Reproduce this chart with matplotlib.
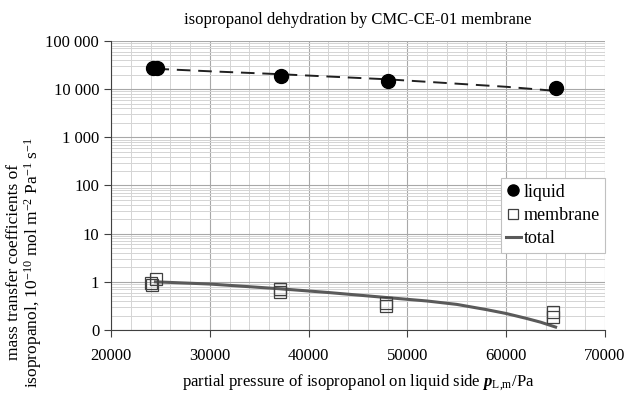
import matplotlib.pyplot as plt
from matplotlib.ticker import FixedLocator, FuncFormatter, LogLocator, MultipleLocator

plt.rcParams['font.family'] = ['Liberation Serif', 'DejaVu Serif']
plt.rcParams['mathtext.fontset'] = 'custom'
plt.rcParams['mathtext.rm'] = 'Liberation Serif'
plt.rcParams['mathtext.it'] = 'Liberation Serif:italic'
plt.rcParams['mathtext.bf'] = 'Liberation Serif:bold'
plt.rcParams['mathtext.bfit'] = 'Liberation Serif:italic:bold'

# measured coefficients
liquid_p = [24300, 24700, 37200, 48000, 65000]
liquid_k = [27000, 27500, 18500, 14500, 10500]
membrane_p = [24000, 24200, 24600, 37100, 37100, 47800, 47800, 64700, 64700]
membrane_k = [0.95, 0.88, 1.12, 0.72, 0.62, 0.37, 0.31, 0.24, 0.19]

# fitted curves
liquid_fit_p = [24500, 30000, 37000, 42000, 48000, 55000, 60000, 65000]
liquid_fit_k = [26500, 23500, 20500, 18300, 16000, 13000, 11200, 9200]
total_p = [24500, 30000, 37000, 42000, 48000, 52000, 55000, 58000, 60000, 62000, 63500, 65000]
total_k = [1.0, 0.9, 0.72, 0.6, 0.47, 0.40, 0.34, 0.265, 0.22, 0.175, 0.145, 0.115]

x_ticks = [20000, 30000, 40000, 50000, 60000, 70000]
y_ticks = [0.1, 1, 10, 100, 1000, 10000, 100000]


def y_fmt(v, pos):
    if v < 1:
        return '0'
    return f'{int(round(v)):,}'.replace(',', ' ')


fig = plt.figure(figsize=(6.27, 3.94), dpi=100)
ax = fig.add_axes([111 / 627, 1 - 330 / 394, (605 - 111) / 627, (330 - 41) / 394])

ax.set_yscale('log')
ax.set_xlim(20000, 70000)
ax.set_ylim(0.1, 100000)

ax.xaxis.set_major_locator(FixedLocator(x_ticks))
ax.xaxis.set_minor_locator(MultipleLocator(2000))
ax.yaxis.set_major_locator(FixedLocator(y_ticks))
ax.yaxis.set_minor_locator(LogLocator(base=10, subs=range(2, 10)))
ax.yaxis.set_major_formatter(FuncFormatter(y_fmt))
ax.yaxis.set_minor_formatter(FuncFormatter(lambda v, p: ''))

ax.grid(True, which='major', color='#a8a8a8', lw=0.8)
ax.grid(True, which='minor', color='#d4d4d4', lw=0.7)
ax.set_axisbelow(True)

for s in ['top', 'right']:
    ax.spines[s].set_visible(False)
for s in ['left', 'bottom']:
    ax.spines[s].set_color('#404040')
    ax.spines[s].set_linewidth(0.8)
ax.tick_params(which='major', direction='out', length=5, color='#404040', labelsize=12, width=0.8)
ax.tick_params(which='minor', length=0)
ax.tick_params(axis='x', pad=8)

ax.plot(liquid_fit_p, liquid_fit_k, color='#202020', lw=1.4, ls=(0, (7, 4)), zorder=3)
ax.plot(total_p, total_k, color='#5a5a5a', lw=2.2, zorder=3, label='total')
ax.plot(liquid_p, liquid_k, 'o', color='black', ms=10, ls='none', zorder=4, label='liquid')
ax.plot(membrane_p, membrane_k, 's', mfc='none', mec='#404040', mew=0.9, ms=8.5, ls='none',
        zorder=4, label='membrane')

h, l = ax.get_legend_handles_labels()
order = [1, 2, 0]
leg = ax.legend([h[i] for i in order], [l[i] for i in order], loc='upper right',
                bbox_to_anchor=(1.0, 0.525), fontsize=13, frameon=True, fancybox=False,
                edgecolor='#c0c0c0', framealpha=1, handlelength=0.8, handletextpad=0.15,
                borderpad=0.3, labelspacing=0.35, borderaxespad=0, markerscale=0.8)
leg.get_frame().set_linewidth(0.8)

ax.set_title('isopropanol dehydration by CMC-CE-01 membrane', fontsize=12, pad=12)
ax.set_xlabel(r'partial pressure of isopropanol on liquid side $\mathbfit{p}_{\mathrm{L{,}m}}$/Pa',
              fontsize=12, labelpad=6)
ax.set_ylabel('mass transfer coefficients of\n'
              r'isopropanol, 10$^{-10}$ mol m$^{-2}$ Pa$^{-1}$ s$^{-1}$',
              fontsize=12.5, linespacing=1.0)
ax.yaxis.set_label_coords(-0.135, 0.235)

fig.savefig('out.png', dpi=100)
